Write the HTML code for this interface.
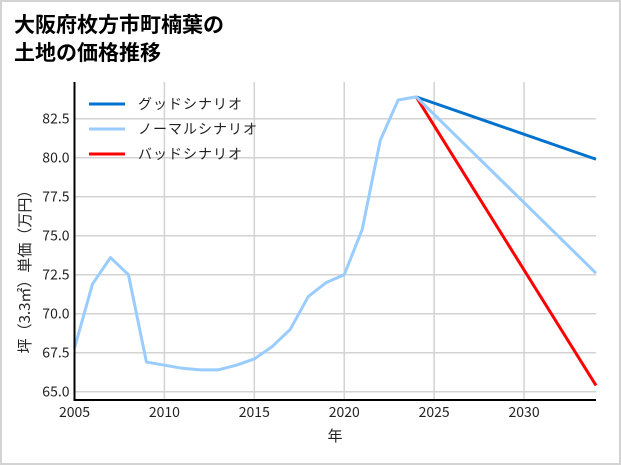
<!DOCTYPE html>
<html><head><meta charset="utf-8"><style>
html,body{margin:0;padding:0;background:#fff}
#wrap{position:relative;width:617px;height:461px;border:2px solid #d3d3d3;background:#fff}
svg{position:absolute;left:-2px;top:-2px}
text{font-family:"Noto Sans CJK JP","Liberation Sans",sans-serif}
</style></head><body>
<div id="wrap">
<svg id="c" width="621" height="465">
<text x="14" y="32" font-size="21" font-weight="bold" fill="#000">大阪府枚方市町楠葉の</text>
<text x="14" y="60" font-size="21" font-weight="bold" fill="#000">土地の価格推移</text>
</svg>
</div>
<script>
const years=[2005,2006,2007,2008,2009,2010,2011,2012,2013,2014,2015,2016,2017,2018,2019,2020,2021,2022,2023,2024];
const normalHist=[67.8,71.9,73.6,72.5,66.9,66.7,66.5,66.4,66.4,66.7,67.1,67.9,69.0,71.1,72.0,72.5,75.4,81.1,83.7,83.9];
const scenYears=[2024,2034];
const goodVals=[83.9,79.9];
const normalVals=[83.9,72.6];
const badVals=[83.9,65.4];
const xTicks=[2005,2010,2015,2020,2025,2030];
const yTicks=[65.0,67.5,70.0,72.5,75.0,77.5,80.0,82.5];
const legendLabels=["グッドシナリオ","ノーマルシナリオ","バッドシナリオ"];
const legendColors=["#0072ce","#99ccff","#ff0000"];

const NS="http://www.w3.org/2000/svg";
const svg=document.getElementById('c');
const X0=74.5,X1=596,Y0=400,Ytop=82;
const xs=y=>X0+(y-2005)*(X1-X0)/(2034-2005);
const ys=v=>391.7-(v-65)*15.6;
function mk(t,a){const e=document.createElementNS(NS,t);for(const k in a)e.setAttribute(k,a[k]);svg.appendChild(e);return e;}
xTicks.forEach(t=>{
  const g=mk('line',{x1:xs(t),x2:xs(t),y1:Ytop,y2:Y0,stroke:'#d3d3d3','stroke-width':1.5});
  
  
  const l=mk('text',{x:xs(t),y:Y0+17,'text-anchor':'middle','font-size':14,fill:'#222'});l.textContent=t;
  
  
});
yTicks.forEach(t=>{
  const g=mk('line',{x1:X0,x2:X1,y1:ys(t),y2:ys(t),stroke:'#d3d3d3','stroke-width':1.5});
  
  
  const l=mk('text',{x:X0-5,y:ys(t)+5,'text-anchor':'end','font-size':14,fill:'#222'});l.textContent=t.toFixed(1);
  
  
});
function line(xv,yv,col,name){
  const p=mk('polyline',{points:xv.map((x,i)=>xs(x)+','+ys(yv[i])).join(' '),fill:'none',stroke:col,'stroke-width':3,'stroke-linejoin':'round'});
  
  
}
line(scenYears,badVals,'#ff0000','bad-scenario-line');
line(scenYears,goodVals,'#0072ce','good-scenario-line');
line(scenYears,normalVals,'#99ccff','normal-scenario-line');
line(years,normalHist,'#99ccff','historical-price-line');
let a=mk('line',{x1:X0,x2:X0,y1:Ytop,y2:Y0+1,stroke:'#000','stroke-width':2});


a=mk('line',{x1:X0-1,x2:X1,y1:Y0,y2:Y0,stroke:'#000','stroke-width':2});


legendLabels.forEach((lab,i)=>{
  const y=104+i*25;
  const s=mk('line',{x1:89,x2:125,y1:y,y2:y,stroke:legendColors[i],'stroke-width':3});
  
  
  const t=mk('text',{x:138,y:y+5,'font-size':14,fill:'#222','letter-spacing':'1'});t.textContent=lab;
  
  
});
let t=mk('text',{x:335,y:441,'text-anchor':'middle','font-size':15,fill:'#222'});t.textContent='年';


t=mk('text',{x:0,y:0,'text-anchor':'middle','font-size':15,fill:'#222',transform:'translate(30,268) rotate(-90)'});t.textContent='坪（3.3㎡）単価（万円）';


</script>
</body></html>
